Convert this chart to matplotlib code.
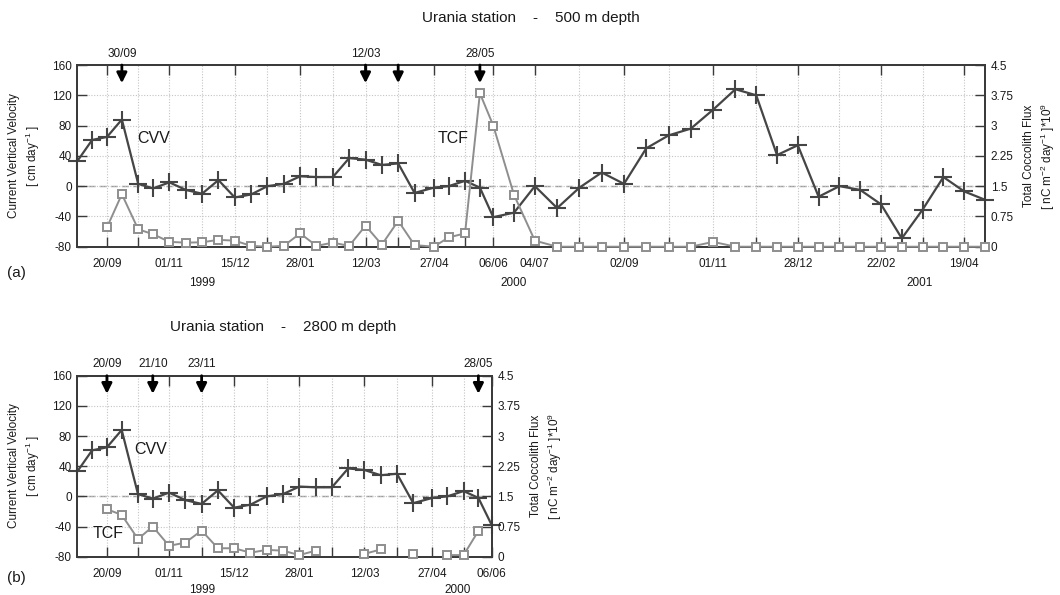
import matplotlib
matplotlib.use('Agg')
import matplotlib.pyplot as plt
import matplotlib.ticker as mticker
import matplotlib.dates as mdates
import numpy as np
import pandas as pd

plt.rcParams['font.family'] = ['Liberation Sans', 'DejaVu Sans']
plt.rcParams['mathtext.fontset'] = 'custom'
plt.rcParams['mathtext.rm'] = 'Liberation Sans'
plt.rcParams['mathtext.it'] = 'Liberation Sans:italic'
plt.rcParams['mathtext.default'] = 'regular'
plt.rcParams['axes.unicode_minus'] = False

# ---------------- data ----------------
dates_500 = ["31/08/1999", "10/09/1999", "20/09/1999", "30/09/1999", "11/10/1999", "21/10/1999",
             "01/11/1999", "12/11/1999", "23/11/1999", "04/12/1999", "15/12/1999", "26/12/1999",
             "06/01/2000", "17/01/2000", "28/01/2000", "08/02/2000", "19/02/2000", "01/03/2000",
             "12/03/2000", "23/03/2000", "03/04/2000", "14/04/2000", "27/04/2000", "07/05/2000",
             "18/05/2000", "28/05/2000", "06/06/2000", "20/06/2000", "04/07/2000", "19/07/2000",
             "03/08/2000", "18/08/2000", "02/09/2000", "17/09/2000", "02/10/2000", "17/10/2000",
             "01/11/2000", "16/11/2000", "30/11/2000", "14/12/2000", "28/12/2000", "11/01/2001",
             "25/01/2001", "08/02/2001", "22/02/2001", "08/03/2001", "22/03/2001", "05/04/2001",
             "19/04/2001", "03/05/2001"]
cvv_500 = [33, 61, 65, 88, 3, -3, 5, -5, -10, 8,
           -15, -11, 0, 3, 13, 12, 12, 37, 35, 28,
           30, -9, -2, 0, 7, -2, -41, -35, 0, -29,
           -2, 18, 3, 50, 67, 76, 101, 128, 120, 41,
           54, -14, 0, -5, -24, -69, -31, 12, -7, -18]
tcf_500 = [np.nan, np.nan, 0.48, 1.30, 0.43, 0.31, 0.12, 0.10, 0.11, 0.17,
           0.15, 0.02, 0.0, 0.02, 0.33, 0.02, 0.10, 0.02, 0.52, 0.05,
           0.64, 0.04, 0.0, 0.23, 0.33, 3.80, 3.00, 1.28, 0.15, 0.0,
           0.0, 0.0, 0.0, 0.0, 0.0, 0.0, 0.12, 0.0, 0.0, 0.0,
           0.0, 0.0, 0.0, 0.0, 0.0, 0.0, 0.0, 0.0, 0.0, 0.0]

dates_2800 = dates_500[:27]
cvv_2800 = [33, 61, 65, 88, 3, -3, 5, -5, -10, 8,
            -15, -11, 0, 3, 13, 12, 12, 37, 35, 28,
            30, -9, -2, 0, 7, -2, -38]
tcf_2800 = [np.nan, np.nan, 1.18, 1.04, 0.44, 0.75, 0.27, 0.35, 0.65, 0.21,
            0.21, 0.10, 0.17, 0.15, 0.04, 0.15, np.nan, np.nan, 0.07, 0.18,
            np.nan, 0.07, np.nan, 0.04, 0.04, 0.64, np.nan]

labels_500 = ["20/09/1999", "01/11/1999", "15/12/1999", "28/01/2000", "12/03/2000", "27/04/2000",
              "06/06/2000", "04/07/2000", "02/09/2000", "01/11/2000", "28/12/2000", "22/02/2001",
              "19/04/2001"]
labels_2800 = ["20/09/1999", "01/11/1999", "15/12/1999", "28/01/2000", "12/03/2000", "27/04/2000",
               "06/06/2000"]
grid_500 = ["11/10/1999", "23/11/1999", "06/01/2000", "19/02/2000", "03/04/2000", "18/05/2000",
            "03/08/2000", "02/10/2000", "30/11/2000", "25/01/2001", "22/03/2001"]
grid_2800 = ["11/10/1999", "23/11/1999", "06/01/2000", "19/02/2000", "03/04/2000", "18/05/2000"]

arrows_500 = ["30/09/1999", "12/03/2000", "03/04/2000", "28/05/2000"]
arrow_text_500 = ["30/09", "12/03", "", "28/05"]
arrows_2800 = ["20/09/1999", "21/10/1999", "23/11/1999", "28/05/2000"]
arrow_text_2800 = ["20/09", "21/10", "23/11", "28/05"]

years_500 = ["1999", "2000", "2001"]
year_pos_500 = ["23/11/1999", "20/06/2000", "20/03/2001"]
years_2800 = ["1999", "2000"]
year_pos_2800 = ["23/11/1999", "14/05/2000"]

cvv_ticks = [-80, -40, 0, 40, 80, 120, 160]
tcf_ticks = [0, 0.75, 1.5, 2.25, 3, 3.75, 4.5]

# ---------------- style ----------------
CVV_COL = '#454545'
TCF_COL = '#8e8e8e'
SPINE_COL = '#3a3a3a'
TXT = '#1a1a1a'
FS_TICK = 8.5


def D(lst):
    return mdates.date2num(pd.to_datetime(lst, format='%d/%m/%Y').to_pydatetime())


def panel(fig, rect, dates, cvv, tcf, lab, grid, arrows, arrow_txt, years, year_pos,
          year_y, cvv_xy, tcf_xy, title, title_xy, tag, tag_xy, ylab_x, ylab_y, rlab_x):
    ax = fig.add_axes(rect)
    ax2 = ax.twinx()
    d = D(dates)
    ax.set_xlim(d[0], d[-1])
    ax.set_ylim(-80, 160)
    ax2.set_ylim(0, 4.5)

    ax.set_xticks(D(lab))
    ax.set_xticklabels([s[:5] for s in lab])
    ax.set_xticks(D(grid), minor=True)
    ax.tick_params(axis='x', which='major', direction='in', length=7, width=1,
                   top=True, bottom=True, labelsize=FS_TICK, pad=8, colors=SPINE_COL,
                   labelcolor=TXT)
    ax.tick_params(axis='x', which='minor', direction='in', length=7, width=1,
                   top=False, bottom=True, colors=SPINE_COL)
    ax.set_yticks(cvv_ticks)
    ax.tick_params(axis='y', direction='in', length=7, width=1, labelsize=FS_TICK,
                   pad=4, colors=SPINE_COL, labelcolor=TXT, right=False)
    ax2.set_yticks(tcf_ticks)
    ax2.yaxis.set_major_formatter(mticker.FormatStrFormatter('%g'))
    ax2.tick_params(axis='y', direction='in', length=7, width=1, labelsize=FS_TICK,
                    pad=4, colors=SPINE_COL, labelcolor=TXT)

    ax.grid(True, which='both', axis='x', ls=(0, (1, 1.5)), color='#c4c4c4', lw=0.8)
    ax.grid(True, which='major', axis='y', ls=(0, (1, 1.5)), color='#c4c4c4', lw=0.8)
    ax.axhline(0, color='#9a9a9a', ls=(0, (5, 3)), lw=1.0, zorder=1)

    for a in (ax, ax2):
        for s in a.spines.values():
            s.set_color(SPINE_COL)
            s.set_linewidth(1.3)

    ax.plot(d, cvv, color=CVV_COL, lw=1.6, marker='+', ms=13, mew=1.5,
            clip_on=False, zorder=3)
    ax2.plot(d, tcf, color=TCF_COL, lw=1.4, marker='s', ms=6, mew=1.4,
             mfc='white', mec=TCF_COL, clip_on=False, zorder=3)

    tr = ax2.get_xaxis_transform()
    for dt, t in zip(D(arrows), arrow_txt):
        ax2.annotate('', xy=(dt, 0.9), xytext=(dt, 1.0), xycoords=tr, textcoords=tr,
                     arrowprops=dict(arrowstyle='-|>', color='black', lw=2,
                                     mutation_scale=15, shrinkA=0, shrinkB=0))
        if t:
            ax2.text(dt, 1.03, t, transform=tr, ha='center', va='bottom',
                     fontsize=FS_TICK, color=TXT)

    trx = ax.get_xaxis_transform()
    for y, p in zip(years, D(year_pos)):
        ax.text(p, year_y, y, transform=trx, ha='center', va='center',
                fontsize=FS_TICK, color=TXT, clip_on=False)

    ax.text(cvv_xy[0], cvv_xy[1], 'CVV', transform=ax.transAxes, ha='center',
            va='center', fontsize=11.5, color=TXT)
    ax.text(tcf_xy[0], tcf_xy[1], 'TCF', transform=ax.transAxes, ha='center',
            va='center', fontsize=11.5, color=TXT)

    fig.text(title_xy[0], title_xy[1], title, ha='center', va='center',
             fontsize=11, color=TXT)
    fig.text(tag_xy[0], tag_xy[1], tag, ha='left', va='center', fontsize=11, color=TXT)
    fig.text(ylab_x, ylab_y, 'Current Vertical Velocity\n[ cm day$^{-1}$ ]',
             rotation=90, ha='center', va='center', multialignment='center',
             fontsize=8.5, color=TXT, linespacing=1.35)
    fig.text(rlab_x, ylab_y, 'Total Coccolith Flux\n[ nC m$^{-2}$ day$^{-1}$ ]*10$^{9}$',
             rotation=90, ha='center', va='center', multialignment='center',
             fontsize=8.5, color=TXT, linespacing=1.35)
    return ax, ax2


W, H = 1060, 595
fig = plt.figure(figsize=(W / 100, H / 100), dpi=100)

panel(fig, [77.3 / W, 1 - 246.7 / H, (985 - 77.3) / W, 181.7 / H],
      dates_500, cvv_500, tcf_500, labels_500, grid_500, arrows_500, arrow_text_500,
      years_500, year_pos_500, -0.198, (0.084, 0.593), (0.414, 0.593),
      'Urania station    -    500 m depth', (0.501, 1 - 18 / H), '(a)', (0.007, 1 - 273 / H),
      25 / W, 1 - 156 / H, 1040 / W)

panel(fig, [77.3 / W, 1 - 556.7 / H, (491.7 - 77.3) / W, 181 / H],
      dates_2800, cvv_2800, tcf_2800, labels_2800, grid_2800, arrows_2800, arrow_text_2800,
      years_2800, year_pos_2800, -0.184, (0.178, 0.59), (0.075, 0.13),
      'Urania station    -    2800 m depth', (0.267, 1 - 327 / H), '(b)', (0.007, 1 - 578 / H),
      25 / W, 1 - 466 / H, 547 / W)

fig.savefig('out.png', dpi=100)
